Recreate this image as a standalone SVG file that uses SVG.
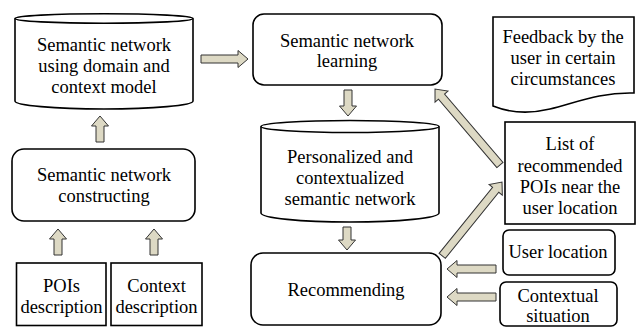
<svg xmlns="http://www.w3.org/2000/svg" width="638" height="327" viewBox="0 0 638 327" font-family="'Liberation Serif', 'DejaVu Serif', serif">
<defs>
<style>
.box{fill:#fff;stroke:#000;stroke-width:1.6}
.arr{fill:#ddd9c4;stroke:#333;stroke-width:1}
.t{font-family:'Liberation Serif', 'DejaVu Serif', serif;font-size:18.5px;fill:#000;text-anchor:middle}
</style>
</defs>
<rect width="638" height="327" fill="#fff"/>
<g id="cyl1">
<path class="box" d="M15,18.5 V101 A89,8 0 0 0 193,101 V18.5"/>
<ellipse class="box" cx="104" cy="18.5" rx="89" ry="4.8"/>
<text class="t" x="104" y="51">Semantic network</text>
<text class="t" x="104" y="72">using domain and</text>
<text class="t" x="104" y="93">context model</text>
</g>
<g id="construct">
<rect class="box" x="12" y="149" width="183" height="72" rx="12"/>
<text class="t" x="104" y="181">Semantic network</text>
<text class="t" x="104" y="202">constructing</text>
</g>
<g id="pois">
<rect class="box" x="16.5" y="263" width="89.5" height="62.5"/>
<text class="t" x="61.5" y="292">POIs</text>
<text class="t" x="61.5" y="313">description</text>
</g>
<g id="context">
<rect class="box" x="111" y="263" width="91" height="62.5"/>
<text class="t" x="156.5" y="292">Context</text>
<text class="t" x="156.5" y="313">description</text>
</g>
<g id="learning">
<rect class="box" x="253" y="14" width="189" height="71" rx="11"/>
<text class="t" x="347" y="47">Semantic network</text>
<text class="t" x="347" y="67">learning</text>
</g>
<g id="cyl2">
<path class="box" d="M261,126.5 V213 A89,9 0 0 0 439,213 V126.5"/>
<ellipse class="box" cx="350" cy="126.5" rx="89" ry="6"/>
<text class="t" x="350" y="163">Personalized and</text>
<text class="t" x="350" y="184">contextualized</text>
<text class="t" x="350" y="205">semantic network</text>
</g>
<g id="recommending">
<rect class="box" x="251" y="253" width="190" height="72" rx="12"/>
<text class="t" x="346" y="296">Recommending</text>
</g>
<g id="feedback">
<path class="box" d="M493,17 H634 V93 C600,92 575,103 550,109 C525,115 508,112 493,106 Z"/>
<text class="t" x="563" y="43">Feedback by the</text>
<text class="t" x="563" y="64">user in certain</text>
<text class="t" x="563" y="85">circumstances</text>
</g>
<g id="list">
<rect class="box" x="505" y="122" width="130" height="102"/>
<text class="t" x="570" y="150">List of</text>
<text class="t" x="570" y="172">recommended</text>
<text class="t" x="570" y="193">POIs near the</text>
<text class="t" x="570" y="214">user location</text>
</g>
<g id="userloc">
<rect class="box" x="503" y="230" width="112" height="45" rx="6"/>
<text class="t" x="558" y="258">User location</text>
</g>
<g id="ctxsit">
<rect class="box" x="500" y="282" width="117" height="44" rx="6"/>
<text class="t" x="558" y="302">Contextual</text>
<text class="t" x="558" y="322">situation</text>
</g>
<g id="connectors">
<polygon class="arr" points="201,55 238,55 238,50.5 248,59 238,67.5 238,63 201,63"/>
<polygon class="arr" points="96,142 96,126 91.5,126 100,116 108.5,126 104,126 104,142"/>
<polygon class="arr" points="54,255 54,239 49.5,239 58,229 66.5,239 62,239 62,255"/>
<polygon class="arr" points="150,255 150,239 145.5,239 154,229 162.5,239 158,239 158,255"/>
<polygon class="arr" points="344,90 344,106 339.5,106 348,116 356.5,106 352,106 352,90"/>
<polygon class="arr" points="343,227 343,240 338.5,240 347,250 355.5,240 351,240 351,227"/>
<polygon class="arr" points="496,265 457,265 457,260.5 447,269 457,277.5 457,273 496,273"/>
<polygon class="arr" points="496,293 457,293 457,288.5 447,297 457,305.5 457,301 496,301"/>
<g transform="translate(435,89) rotate(229.5)">
<polygon class="arr" points="-100,-4 -10,-4 -10,-8.5 0,0 -10,8.5 -10,4 -100,4"/>
</g>
<g transform="translate(502,182) rotate(-51)">
<polygon class="arr" points="-95,-4 -10,-4 -10,-8.5 0,0 -10,8.5 -10,4 -95,4"/>
</g>
</g>
</svg>
